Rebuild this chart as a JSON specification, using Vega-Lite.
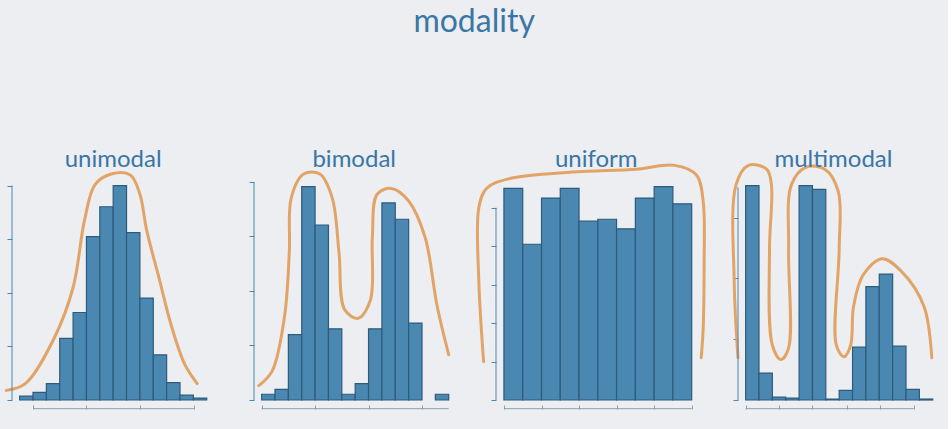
{
  "$schema": "https://vega.github.io/schema/vega-lite/v6.json",
  "background": "#eceef1",
  "padding": {"left": 0, "top": 6, "right": 0, "bottom": 22},
  "bounds": "flush",
  "title": {"text": "modality", "fontSize": 32, "font": "Lato", "fontWeight": "normal", "color": "#3a76a6", "anchor": "middle", "offset": 109},
  "spacing": 32,
  "datasets": {
    "one": [{}],
    "bars": [
      {"panel": "unimodal", "x0": 8, "x1": 22, "count": 4},
      {"panel": "unimodal", "x0": 22, "x1": 36, "count": 8},
      {"panel": "unimodal", "x0": 36, "x1": 50, "count": 17},
      {"panel": "unimodal", "x0": 50, "x1": 64, "count": 64},
      {"panel": "unimodal", "x0": 64, "x1": 78, "count": 91},
      {"panel": "unimodal", "x0": 78, "x1": 92, "count": 170},
      {"panel": "unimodal", "x0": 92, "x1": 106, "count": 201},
      {"panel": "unimodal", "x0": 106, "x1": 120, "count": 223},
      {"panel": "unimodal", "x0": 120, "x1": 134, "count": 174},
      {"panel": "unimodal", "x0": 134, "x1": 148, "count": 106},
      {"panel": "unimodal", "x0": 148, "x1": 162, "count": 47},
      {"panel": "unimodal", "x0": 162, "x1": 176, "count": 18},
      {"panel": "unimodal", "x0": 176, "x1": 190, "count": 5},
      {"panel": "unimodal", "x0": 190, "x1": 204, "count": 2},
      {"panel": "bimodal", "x0": 8, "x1": 22, "count": 6},
      {"panel": "bimodal", "x0": 22, "x1": 36, "count": 11},
      {"panel": "bimodal", "x0": 36, "x1": 50, "count": 68},
      {"panel": "bimodal", "x0": 50, "x1": 64, "count": 222},
      {"panel": "bimodal", "x0": 64, "x1": 78, "count": 182},
      {"panel": "bimodal", "x0": 78, "x1": 92, "count": 74},
      {"panel": "bimodal", "x0": 92, "x1": 106, "count": 6},
      {"panel": "bimodal", "x0": 106, "x1": 120, "count": 17},
      {"panel": "bimodal", "x0": 120, "x1": 134, "count": 74},
      {"panel": "bimodal", "x0": 134, "x1": 148, "count": 205},
      {"panel": "bimodal", "x0": 148, "x1": 162, "count": 188},
      {"panel": "bimodal", "x0": 162, "x1": 176, "count": 80},
      {"panel": "bimodal", "x0": 190, "x1": 204, "count": 6},
      {"panel": "uniform", "x0": 8.3, "x1": 28, "count": 220},
      {"panel": "uniform", "x0": 28, "x1": 47.7, "count": 162},
      {"panel": "uniform", "x0": 47.7, "x1": 67.3, "count": 210},
      {"panel": "uniform", "x0": 67.3, "x1": 87, "count": 220},
      {"panel": "uniform", "x0": 87, "x1": 106.7, "count": 186},
      {"panel": "uniform", "x0": 106.7, "x1": 126.3, "count": 188},
      {"panel": "uniform", "x0": 126.3, "x1": 146, "count": 178},
      {"panel": "uniform", "x0": 146, "x1": 165.7, "count": 210},
      {"panel": "uniform", "x0": 165.7, "x1": 185.3, "count": 222},
      {"panel": "uniform", "x0": 185.3, "x1": 205, "count": 204},
      {"panel": "multimodal", "x0": 8, "x1": 22, "count": 223},
      {"panel": "multimodal", "x0": 22, "x1": 36, "count": 28},
      {"panel": "multimodal", "x0": 36, "x1": 50, "count": 3},
      {"panel": "multimodal", "x0": 50, "x1": 64, "count": 2},
      {"panel": "multimodal", "x0": 64, "x1": 78, "count": 223},
      {"panel": "multimodal", "x0": 78, "x1": 92, "count": 219},
      {"panel": "multimodal", "x0": 92, "x1": 106, "count": 1},
      {"panel": "multimodal", "x0": 106, "x1": 120, "count": 10},
      {"panel": "multimodal", "x0": 120, "x1": 134, "count": 55},
      {"panel": "multimodal", "x0": 134, "x1": 148, "count": 118},
      {"panel": "multimodal", "x0": 148, "x1": 162, "count": 131},
      {"panel": "multimodal", "x0": 162, "x1": 176, "count": 56},
      {"panel": "multimodal", "x0": 176, "x1": 190, "count": 11},
      {"panel": "multimodal", "x0": 190, "x1": 204, "count": 1}
    ],
    "curves": [
      {"panel": "unimodal", "k": 1, "x": -6, "y": 10},
      {"panel": "unimodal", "k": 2, "x": 14, "y": 17},
      {"panel": "unimodal", "k": 3, "x": 44, "y": 64},
      {"panel": "unimodal", "k": 4, "x": 64, "y": 117},
      {"panel": "unimodal", "k": 5, "x": 76, "y": 187},
      {"panel": "unimodal", "k": 6, "x": 87, "y": 224},
      {"panel": "unimodal", "k": 7, "x": 104, "y": 235},
      {"panel": "unimodal", "k": 8, "x": 124, "y": 234},
      {"panel": "unimodal", "k": 9, "x": 134, "y": 214},
      {"panel": "unimodal", "k": 10, "x": 141, "y": 177},
      {"panel": "unimodal", "k": 11, "x": 154, "y": 127},
      {"panel": "unimodal", "k": 12, "x": 167, "y": 77},
      {"panel": "unimodal", "k": 13, "x": 181, "y": 37},
      {"panel": "unimodal", "k": 14, "x": 194, "y": 17},
      {"panel": "bimodal", "k": 1, "x": 5, "y": 15},
      {"panel": "bimodal", "k": 2, "x": 19, "y": 30},
      {"panel": "bimodal", "k": 3, "x": 32, "y": 87},
      {"panel": "bimodal", "k": 4, "x": 37, "y": 154},
      {"panel": "bimodal", "k": 5, "x": 39, "y": 210},
      {"panel": "bimodal", "k": 6, "x": 52, "y": 235},
      {"panel": "bimodal", "k": 7, "x": 69, "y": 235},
      {"panel": "bimodal", "k": 8, "x": 82, "y": 210},
      {"panel": "bimodal", "k": 9, "x": 89, "y": 154},
      {"panel": "bimodal", "k": 10, "x": 95, "y": 94},
      {"panel": "bimodal", "k": 11, "x": 109, "y": 85},
      {"panel": "bimodal", "k": 12, "x": 122, "y": 104},
      {"panel": "bimodal", "k": 13, "x": 124, "y": 170},
      {"panel": "bimodal", "k": 14, "x": 129, "y": 214},
      {"panel": "bimodal", "k": 15, "x": 144, "y": 220},
      {"panel": "bimodal", "k": 16, "x": 162, "y": 207},
      {"panel": "bimodal", "k": 17, "x": 179, "y": 170},
      {"panel": "bimodal", "k": 18, "x": 192, "y": 97},
      {"panel": "bimodal", "k": 19, "x": 204, "y": 47},
      {"panel": "uniform", "k": 1, "x": -13, "y": 40},
      {"panel": "uniform", "k": 2, "x": -18, "y": 124},
      {"panel": "uniform", "k": 3, "x": -18, "y": 200},
      {"panel": "uniform", "k": 4, "x": -10, "y": 220},
      {"panel": "uniform", "k": 5, "x": 13, "y": 230},
      {"panel": "uniform", "k": 6, "x": 80, "y": 237},
      {"panel": "uniform", "k": 7, "x": 147, "y": 240},
      {"panel": "uniform", "k": 8, "x": 187, "y": 244},
      {"panel": "uniform", "k": 9, "x": 210, "y": 234},
      {"panel": "uniform", "k": 10, "x": 217, "y": 207},
      {"panel": "uniform", "k": 11, "x": 218, "y": 140},
      {"panel": "uniform", "k": 12, "x": 217, "y": 74},
      {"panel": "uniform", "k": 13, "x": 215, "y": 44},
      {"panel": "multimodal", "k": 1, "x": 0, "y": 44},
      {"panel": "multimodal", "k": 2, "x": -4, "y": 124},
      {"panel": "multimodal", "k": 3, "x": -2, "y": 224},
      {"panel": "multimodal", "k": 4, "x": 11, "y": 244},
      {"panel": "multimodal", "k": 5, "x": 30, "y": 240},
      {"panel": "multimodal", "k": 6, "x": 35, "y": 224},
      {"panel": "multimodal", "k": 7, "x": 33, "y": 157},
      {"panel": "multimodal", "k": 8, "x": 36, "y": 57},
      {"panel": "multimodal", "k": 9, "x": 45, "y": 42},
      {"panel": "multimodal", "k": 10, "x": 53, "y": 54},
      {"panel": "multimodal", "k": 11, "x": 53, "y": 157},
      {"panel": "multimodal", "k": 12, "x": 56, "y": 224},
      {"panel": "multimodal", "k": 13, "x": 71, "y": 242},
      {"panel": "multimodal", "k": 14, "x": 91, "y": 240},
      {"panel": "multimodal", "k": 15, "x": 105, "y": 217},
      {"panel": "multimodal", "k": 16, "x": 106, "y": 157},
      {"panel": "multimodal", "k": 17, "x": 103, "y": 57},
      {"panel": "multimodal", "k": 18, "x": 111, "y": 45},
      {"panel": "multimodal", "k": 19, "x": 118, "y": 57},
      {"panel": "multimodal", "k": 20, "x": 121, "y": 97},
      {"panel": "multimodal", "k": 21, "x": 131, "y": 130},
      {"panel": "multimodal", "k": 22, "x": 151, "y": 147},
      {"panel": "multimodal", "k": 23, "x": 171, "y": 134},
      {"panel": "multimodal", "k": 24, "x": 195, "y": 97},
      {"panel": "multimodal", "k": 25, "x": 203, "y": 44}
    ]
  },
  "hconcat": [
    {
      "width": 210, "height": 250,
      "layer": [
        {"data": {"name": "bars"}, "transform": [{"filter": "datum.panel == 'unimodal'"}],
         "mark": {"type": "rect", "fill": "#4a88b2", "stroke": "#2d5b7c", "strokeWidth": 1.2},
         "encoding": {
           "x": {"field": "x0", "type": "quantitative", "scale": {"domain": [0, 210]}, "axis": {"values": [22, 50, 78, 106, 134, 162, 191], "labels": false, "title": null, "grid": false, "domain": false, "offset": 9, "tickSize": -4, "tickColor": "#8fa0b0"}},
           "x2": {"field": "x1"},
           "y": {"field": "count", "type": "quantitative", "scale": {"domain": [0, 250]}, "axis": {"values": [0, 55.75, 111.5, 167.25, 223], "labels": false, "title": null, "grid": false, "domain": false, "tickSize": 5, "tickColor": "#4a88b2"}},
           "y2": {"datum": 0}
         }},
        {"data": {"name": "curves"}, "transform": [{"filter": "datum.panel == 'unimodal'"}],
         "mark": {"type": "line", "color": "#e2a466", "strokeWidth": 3, "interpolate": "catmull-rom", "strokeCap": "round"},
         "encoding": {"x": {"field": "x", "type": "quantitative"}, "y": {"field": "y", "type": "quantitative"}, "order": {"field": "k"}}},
        {"data": {"name": "one"}, "mark": {"type": "rule", "color": "#4a88b2"}, "encoding": {"x": {"datum": 0}, "y": {"datum": 0}, "y2": {"datum": 223}}},
        {"data": {"name": "one"}, "mark": {"type": "rule", "color": "#8fa0b0"}, "encoding": {"y": {"datum": -9}, "x": {"datum": 22}, "x2": {"datum": 191}}},
        {"data": {"name": "one"}, "mark": {"type": "text", "fontSize": 24, "font": "Lato", "color": "#3a76a6", "baseline": "alphabetic"}, "encoding": {"x": {"datum": 106}, "y": {"datum": 242}, "text": {"value": "unimodal"}}}
      ]
    },
    {
      "width": 210, "height": 250,
      "layer": [
        {"data": {"name": "bars"}, "transform": [{"filter": "datum.panel == 'bimodal'"}],
         "mark": {"type": "rect", "fill": "#4a88b2", "stroke": "#2d5b7c", "strokeWidth": 1.2},
         "encoding": {
           "x": {"field": "x0", "type": "quantitative", "scale": {"domain": [0, 210]}, "axis": {"values": [8, 36, 64, 92, 120, 148, 176, 204], "labels": false, "title": null, "grid": false, "domain": false, "offset": 9, "tickSize": -4, "tickColor": "#8fa0b0"}},
           "x2": {"field": "x1"},
           "y": {"field": "count", "type": "quantitative", "scale": {"domain": [0, 250]}, "axis": {"values": [0, 56.7, 113.4, 170.1, 226.8], "labels": false, "title": null, "grid": false, "domain": false, "tickSize": 5, "tickColor": "#4a88b2"}},
           "y2": {"datum": 0}
         }},
        {"data": {"name": "curves"}, "transform": [{"filter": "datum.panel == 'bimodal'"}],
         "mark": {"type": "line", "color": "#e2a466", "strokeWidth": 3, "interpolate": "catmull-rom", "strokeCap": "round"},
         "encoding": {"x": {"field": "x", "type": "quantitative"}, "y": {"field": "y", "type": "quantitative"}, "order": {"field": "k"}}},
        {"data": {"name": "one"}, "mark": {"type": "rule", "color": "#4a88b2"}, "encoding": {"x": {"datum": 0}, "y": {"datum": 0}, "y2": {"datum": 226.8}}},
        {"data": {"name": "one"}, "mark": {"type": "rule", "color": "#8fa0b0"}, "encoding": {"y": {"datum": -9}, "x": {"datum": 8}, "x2": {"datum": 204}}},
        {"data": {"name": "one"}, "mark": {"type": "text", "fontSize": 24, "font": "Lato", "color": "#3a76a6", "baseline": "alphabetic"}, "encoding": {"x": {"datum": 105}, "y": {"datum": 242}, "text": {"value": "bimodal"}}}
      ]
    },
    {
      "width": 210, "height": 250,
      "layer": [
        {"data": {"name": "bars"}, "transform": [{"filter": "datum.panel == 'uniform'"}],
         "mark": {"type": "rect", "fill": "#4a88b2", "stroke": "#2d5b7c", "strokeWidth": 1.2},
         "encoding": {
           "x": {"field": "x0", "type": "quantitative", "scale": {"domain": [0, 210]}, "axis": {"values": [8.3, 47.7, 87, 126.3, 165.7, 205], "labels": false, "title": null, "grid": false, "domain": false, "offset": 9, "tickSize": -4, "tickColor": "#8fa0b0"}},
           "x2": {"field": "x1"},
           "y": {"field": "count", "type": "quantitative", "scale": {"domain": [0, 250]}, "axis": {"values": [0, 40, 80, 120, 160, 200], "labels": false, "title": null, "grid": false, "domain": false, "tickSize": 5, "tickColor": "#4a88b2"}},
           "y2": {"datum": 0}
         }},
        {"data": {"name": "curves"}, "transform": [{"filter": "datum.panel == 'uniform'"}],
         "mark": {"type": "line", "color": "#e2a466", "strokeWidth": 3, "interpolate": "catmull-rom", "strokeCap": "round"},
         "encoding": {"x": {"field": "x", "type": "quantitative"}, "y": {"field": "y", "type": "quantitative"}, "order": {"field": "k"}}},
        {"data": {"name": "one"}, "mark": {"type": "rule", "color": "#4a88b2"}, "encoding": {"x": {"datum": 0}, "y": {"datum": 0}, "y2": {"datum": 200}}},
        {"data": {"name": "one"}, "mark": {"type": "rule", "color": "#8fa0b0"}, "encoding": {"y": {"datum": -9}, "x": {"datum": 8.3}, "x2": {"datum": 205}}},
        {"data": {"name": "one"}, "mark": {"type": "text", "fontSize": 24, "font": "Lato", "color": "#3a76a6", "baseline": "alphabetic"}, "encoding": {"x": {"datum": 105}, "y": {"datum": 242}, "text": {"value": "uniform"}}}
      ]
    },
    {
      "width": 210, "height": 250,
      "layer": [
        {"data": {"name": "bars"}, "transform": [{"filter": "datum.panel == 'multimodal'"}],
         "mark": {"type": "rect", "fill": "#4a88b2", "stroke": "#2d5b7c", "strokeWidth": 1.2},
         "encoding": {
           "x": {"field": "x0", "type": "quantitative", "scale": {"domain": [0, 210]}, "axis": {"values": [8, 43, 78, 114, 149, 184], "labels": false, "title": null, "grid": false, "domain": false, "offset": 9, "tickSize": -4, "tickColor": "#8fa0b0"}},
           "x2": {"field": "x1"},
           "y": {"field": "count", "type": "quantitative", "scale": {"domain": [0, 250]}, "axis": {"values": [0, 31.6, 63.2, 94.8, 126.4, 158, 189.6, 221.2], "labels": false, "title": null, "grid": false, "domain": false, "tickSize": 5, "tickColor": "#4a88b2"}},
           "y2": {"datum": 0}
         }},
        {"data": {"name": "curves"}, "transform": [{"filter": "datum.panel == 'multimodal'"}],
         "mark": {"type": "line", "color": "#e2a466", "strokeWidth": 3, "interpolate": "catmull-rom", "strokeCap": "round"},
         "encoding": {"x": {"field": "x", "type": "quantitative"}, "y": {"field": "y", "type": "quantitative"}, "order": {"field": "k"}}},
        {"data": {"name": "one"}, "mark": {"type": "rule", "color": "#4a88b2"}, "encoding": {"x": {"datum": 0}, "y": {"datum": 0}, "y2": {"datum": 221.2}}},
        {"data": {"name": "one"}, "mark": {"type": "rule", "color": "#8fa0b0"}, "encoding": {"y": {"datum": -9}, "x": {"datum": 8}, "x2": {"datum": 184}}},
        {"data": {"name": "one"}, "mark": {"type": "text", "fontSize": 24, "font": "Lato", "color": "#3a76a6", "baseline": "alphabetic"}, "encoding": {"x": {"datum": 100}, "y": {"datum": 242}, "text": {"value": "multimodal"}}}
      ]
    }
  ],
  "config": {"view": {"stroke": null}}
}
